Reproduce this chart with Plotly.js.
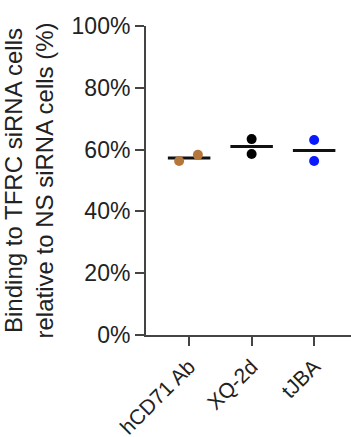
<!DOCTYPE html>
<html>
<head>
<meta charset="utf-8">
<script src="https://cdn.plot.ly/plotly-3.0.1.min.js"></script>
<style>html,body{margin:0;padding:0;background:#fff;}#chart{width:351px;height:437px;}</style>
</head>
<body>
<div id="chart"></div>
<script>
var categories = ["hCD71 Ab", "XQ-2d", "tJBA"];
var colors = ["#b5763a", "#000000", "#0a1aff"];
var hCD71 = [56.3, 58.3];
var xq2d = [63.4, 58.6];
var tjba = [63.1, 56.3];
var jitter = [[-0.16, 0.14], [0, 0], [0, 0]];
var yTicks = [0, 20, 40, 60, 80, 100];

var series = [hCD71, xq2d, tjba];
var traces = [];
series.forEach(function (vals, i) {
  var mean = vals.reduce(function (a, b) { return a + b; }, 0) / vals.length;
  traces.push({
    x: [i - 0.34, i + 0.34], y: [mean, mean], mode: 'lines', type: 'scatter',
    line: {color: '#111', width: 3}, hoverinfo: 'skip', showlegend: false
  });
});
series.forEach(function (vals, i) {
  traces.push({
    x: vals.map(function (v, j) { return i + jitter[i][j]; }), y: vals,
    mode: 'markers', type: 'scatter', showlegend: false,
    marker: {color: colors[i], size: 10}
  });
});

var font = {family: 'Liberation Sans, Arial, sans-serif', color: '#222'};
Plotly.newPlot('chart', traces, {
  width: 351, height: 437,
  margin: {l: 146, r: 0, t: 26, b: 102},
  paper_bgcolor: '#fff', plot_bgcolor: '#fff',
  xaxis: {
    range: [-0.69, 2.59], tickmode: 'array', tickvals: [0, 1, 2], ticktext: categories,
    tickangle: -45, ticks: 'outside', ticklen: 9, tickwidth: 2, tickcolor: '#444',
    showline: true, linecolor: '#444', linewidth: 2, showgrid: false, zeroline: false,
    tickfont: Object.assign({size: 21}, font), automargin: false, fixedrange: true
  },
  yaxis: {
    range: [0, 100], tickmode: 'array', tickvals: yTicks, ticktext: yTicks.map(function (t) { return t + '%'; }),
    ticks: 'outside', ticklen: 9, tickwidth: 2, tickcolor: '#444',
    showline: true, linecolor: '#444', linewidth: 2, showgrid: false, zeroline: false,
    tickfont: Object.assign({size: 23}, font), automargin: false,
    title: {text: 'Binding to TFRC siRNA cells<br>relative to NS siRNA cells (%)', font: Object.assign({size: 24}, font), standoff: 11}
  },
  showlegend: false
}, {staticPlot: true});
</script>
</body>
</html>
